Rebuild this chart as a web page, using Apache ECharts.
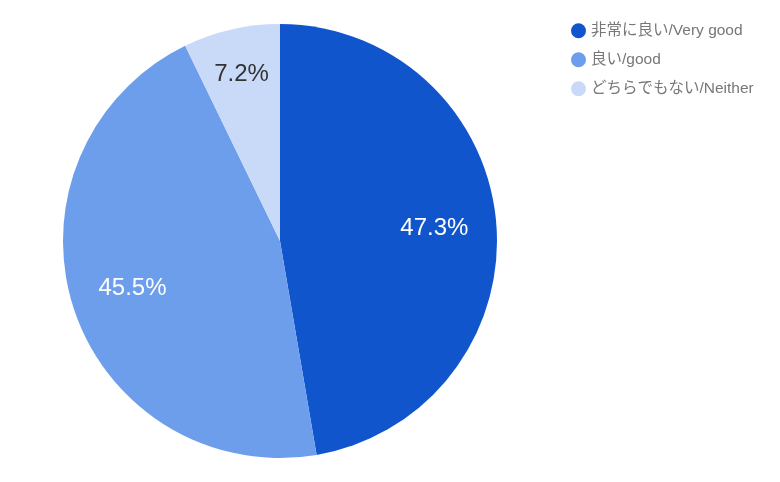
<!DOCTYPE html>
<html><head><meta charset="utf-8">
<script src="https://cdn.jsdelivr.net/npm/echarts@6/dist/echarts.min.js"></script>
<style>html,body{margin:0;padding:0;background:#fff}#c{width:780px;height:482px}</style>
</head><body><div id="c"></div>
<script>
const categories = ['非常に良い/Very good', '良い/good', 'どちらでもない/Neither'];
const values = [47.3, 45.5, 7.2];
const colors = ['#1155cc', '#6d9eeb', '#c9daf8'];
const labelColors = ['#ffffff', '#ffffff', '#333333'];

const chart = echarts.init(document.getElementById('c'), null, {renderer: 'canvas'});
const center = [280, 241];
const R = 217;
const baseData = categories.map((n, i) => ({name: n, value: values[i], itemStyle: {color: colors[i]}}));
function labelData(show) {
  return categories.map((n, i) => ({
    name: n, value: values[i],
    itemStyle: {color: 'rgba(0,0,0,0)'},
    label: {show: show[i], color: labelColors[i]}
  }));
}
const labelStyle = {position: 'inside', formatter: p => p.value.toFixed(1) + '%', fontSize: 24,
                    fontFamily: 'Arial, Liberation Sans, sans-serif'};
chart.setOption({
  animation: false,
  legend: {
    orient: 'vertical', left: 566, top: 18, itemGap: 13.5,
    itemWidth: 15, itemHeight: 15, icon: 'circle',
    textStyle: {color: '#777777', fontSize: 15.5, fontFamily: 'Arial, Liberation Sans, Noto Sans CJK JP, sans-serif'},
    data: categories
  },
  series: [
    {type: 'pie', center: center, radius: [0, R], startAngle: 90, clockwise: true,
     label: {show: false}, labelLine: {show: false}, silent: true,
     itemStyle: {borderWidth: 0}, data: baseData},
    {type: 'pie', center: center, radius: [0.4 * R, R], startAngle: 90, clockwise: true,
     silent: true, legendHoverLink: false, labelLine: {show: false},
     label: labelStyle, data: labelData([true, true, false])},
    {type: 'pie', center: center, radius: [0.55 * R, R], startAngle: 90, clockwise: true,
     silent: true, legendHoverLink: false, labelLine: {show: false},
     label: labelStyle, data: labelData([false, false, true])}
  ]
});
</script></body></html>
